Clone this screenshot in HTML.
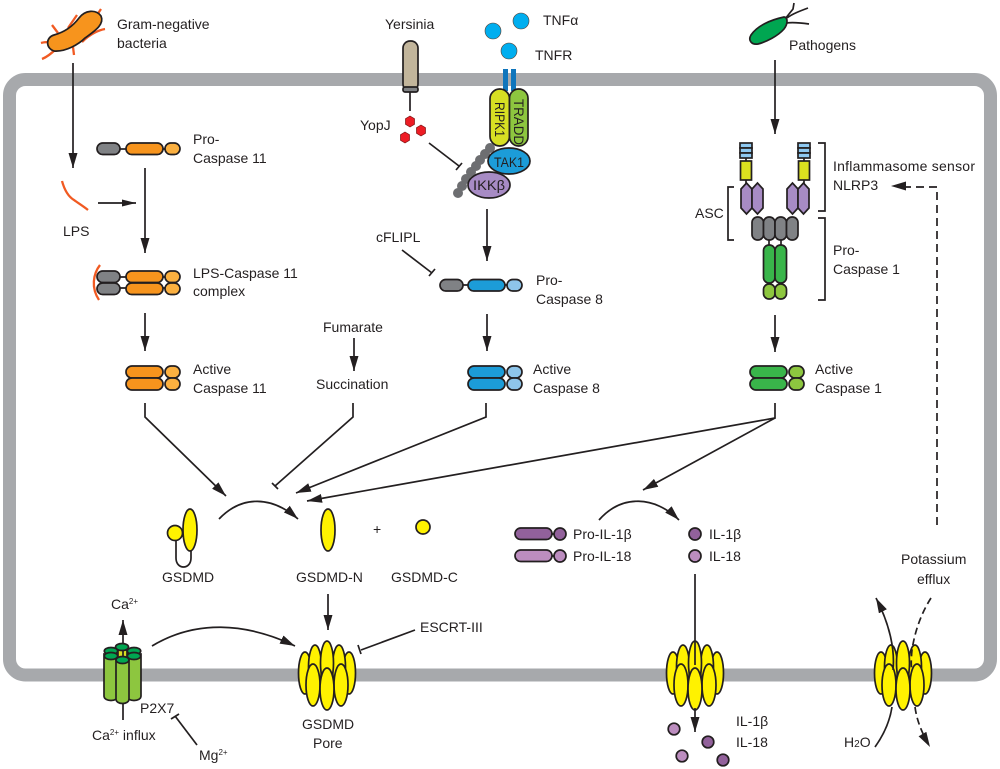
<!DOCTYPE html>
<html><head><meta charset="utf-8"><style>
html,body{margin:0;padding:0;background:#fff}
svg{display:block}
text{font-family:"Liberation Sans",sans-serif;font-size:14px;fill:#231f20}
.l{fill:none;stroke:#231f20;stroke-width:1.7}
.s{stroke:#231f20;stroke-width:1.7}
.o{fill:none;stroke:#f15a22;stroke-width:2.300}
</style></head><body>
<svg width="1000" height="769" viewBox="0 0 1000 769" xmlns="http://www.w3.org/2000/svg">
<defs>
<marker id="a" markerUnits="userSpaceOnUse" markerWidth="16" markerHeight="10" refX="15" refY="4.500" orient="auto"><path d="M0,0L15,4.500L0,9z" fill="#231f20"/></marker>
<marker id="b" markerUnits="userSpaceOnUse" markerWidth="16" markerHeight="9" refX="14" refY="3.500" orient="auto"><path d="M0,0L14,3.500L0,7z" fill="#231f20"/></marker>
<g id="pore" class="s" fill="#fff200">
<ellipse cx="-22" cy="-3" rx="6.500" ry="21"/><ellipse cx="22" cy="-3" rx="6.500" ry="21"/>
<ellipse cx="-12" cy="-9" rx="6.500" ry="22"/><ellipse cx="12" cy="-9" rx="6.500" ry="22"/>
<ellipse cx="0" cy="-13" rx="6.500" ry="22"/>
<ellipse cx="-14" cy="9" rx="7" ry="21"/><ellipse cx="14" cy="9" rx="7" ry="21"/>
<ellipse cx="0" cy="13" rx="7" ry="21"/>
</g>
<g id="hexp"><path d="M0,6L5.500,0L11,6V25L5.500,31L0,25z" fill="#a78bc4" class="s"/></g>
<g id="sensor" class="s">
<rect x="0" y="0" width="12" height="5" fill="#8ec8f0"/><rect x="0" y="5" width="12" height="5" fill="#8ec8f0"/><rect x="0" y="10" width="12" height="5" fill="#8ec8f0"/>
<rect x="0.500" y="18" width="11" height="19" fill="#dbe01f"/>
<path d="M6,15V18M6,37V41" fill="none"/>
</g>
</defs>

<rect x="9.500" y="79.500" width="981" height="595.500" rx="16" ry="16" fill="none" stroke="#a7a9ac" stroke-width="13"/>

<!-- bacteria -->
<path class="o" d="M41,43C44,42 47,42 50,42M52,25L58,33M77,15L68,28M101,9L97,15M105,29C99,30 90,34 82,42M73,47L74,55M42,59C47,57 52,53 57,48"/>
<path class="s" fill="#f7941d" d="M101,16C96,9 85,10 79,18C73,26 65,32 54,35C46,37 45,48 54,51C66,52 79,44 85,38C93,32 105,25 101,16z"/>
<text x="117" y="29">Gram-negative</text><text x="117" y="48">bacteria</text>
<line class="l" x1="73" y1="63" x2="73" y2="168" marker-end="url(#a)"/>

<!-- Caspase 11 -->
<g class="s">
<line x1="120" y1="149" x2="126" y2="149"/><line x1="163" y1="149" x2="166" y2="149"/>
<rect x="97" y="143" width="23" height="11.500" rx="5.700" fill="#808285"/>
<rect x="126" y="143" width="37" height="11.500" rx="5.700" fill="#f7941d"/>
<rect x="165" y="143" width="15" height="11.500" rx="5.700" fill="#fbb040"/>
</g>
<text x="193" y="144">Pro-</text><text x="193" y="163">Caspase 11</text>
<path class="o" d="M62,181C65,192 69,197 74,200C78,203 83,206 88,210"/>
<text x="63" y="236">LPS</text>
<line class="l" x1="98" y1="203" x2="136" y2="203" marker-end="url(#b)"/>
<line class="l" x1="145" y1="168" x2="145" y2="253" marker-end="url(#a)"/>
<path class="o" d="M100,265C93,274 91,288 99,300"/>
<g class="s">
<path d="M120,277L126,277M120,288L126,288M163,277H166M163,288H166" fill="none"/>
<rect x="97" y="271" width="23" height="11.500" rx="5.700" fill="#808285"/><rect x="97" y="283" width="23" height="11.500" rx="5.700" fill="#808285"/>
<rect x="126" y="271" width="37" height="11.500" rx="5.700" fill="#f7941d"/><rect x="126" y="283" width="37" height="11.500" rx="5.700" fill="#f7941d"/>
<rect x="165" y="271" width="15" height="11.500" rx="5.700" fill="#fbb040"/><rect x="165" y="283" width="15" height="11.500" rx="5.700" fill="#fbb040"/>
</g>
<text x="193" y="278">LPS-Caspase 11</text><text x="193" y="296">complex</text>
<line class="l" x1="145" y1="313" x2="145" y2="351" marker-end="url(#a)"/>
<g class="s">
<rect x="126" y="366" width="37" height="12" rx="6" fill="#f7941d"/><rect x="126" y="378" width="37" height="12" rx="6" fill="#f7941d"/>
<rect x="165" y="366" width="15" height="12" rx="6" fill="#fbb040"/><rect x="165" y="378" width="15" height="12" rx="6" fill="#fbb040"/>
</g>
<text x="193" y="374">Active</text><text x="193" y="393">Caspase 11</text>

<!-- converging lines -->
<path class="l" d="M145,403V417L226,496" marker-end="url(#a)"/>
<path class="l" d="M353,403V417L275,486"/><line class="l" x1="272" y1="483" x2="278" y2="489"/>
<path class="l" d="M486,403V417L296,493" marker-end="url(#a)"/>
<path class="l" d="M775,403V418L307,501" marker-end="url(#a)"/>
<path class="l" d="M775,418L643,490" marker-end="url(#a)"/>

<!-- Fumarate -->
<text x="323" y="332">Fumarate</text><text x="316" y="389">Succination</text>
<line class="l" x1="354" y1="338" x2="354" y2="371" marker-end="url(#a)"/>

<!-- Yersinia -->
<text x="385" y="29">Yersinia</text>
<rect class="s" x="403" y="41" width="15" height="50" rx="7" fill="#c2b59b"/>
<rect class="s" x="403" y="87" width="15" height="5" rx="2" fill="#808285"/>
<line class="l" x1="410" y1="92" x2="410" y2="111"/>
<g fill="#ed1c24" stroke="#7a1414" stroke-width=".7">
<path d="M410,116L414.500,118.700V124.300L410,127L405.500,124.300V118.700z"/>
<path d="M421,125L425.500,127.700V133.300L421,136L416.500,133.300V127.700z"/>
<path d="M405,132L409.500,134.700V140.300L405,143L400.500,140.300V134.700z"/>
</g>
<text x="360" y="130">YopJ</text>
<line class="l" x1="429" y1="143" x2="459" y2="166"/><line class="l" x1="462" y1="163" x2="456" y2="170"/>

<!-- TNF -->
<g fill="#00aeef" stroke="#5b3a2a" stroke-width=".6"><circle cx="521" cy="21" r="8"/><circle cx="493" cy="31" r="8"/><circle cx="509" cy="51" r="8"/></g>
<text x="543" y="25">TNFα</text><text x="535" y="60">TNFR</text>
<rect x="503" y="69" width="5" height="22" fill="#0f75bc"/><rect x="511" y="69" width="5" height="22" fill="#0f75bc"/>
<rect class="s" x="490" y="89" width="19.500" height="57" rx="9.700" fill="#d7df23"/>
<rect class="s" x="509.500" y="89" width="18.500" height="57" rx="9.200" fill="#8dc63f"/>
<text transform="translate(495,102) rotate(90)" textLength="35" lengthAdjust="spacingAndGlyphs">RIPK1</text>
<text transform="translate(514,99) rotate(90)" textLength="46" lengthAdjust="spacingAndGlyphs">TRADD</text>
<g fill="#6d6e71">
<circle cx="490" cy="148" r="5"/><circle cx="485" cy="154" r="5"/><circle cx="480" cy="160" r="5"/><circle cx="476" cy="166" r="5"/><circle cx="471" cy="172" r="5"/><circle cx="466" cy="179" r="5"/><circle cx="462" cy="186" r="5"/><circle cx="458" cy="193" r="5"/>
</g>
<ellipse class="s" cx="509" cy="161" rx="21" ry="13" fill="#1c9cd8"/>
<ellipse class="s" cx="489" cy="185" rx="21" ry="13" fill="#a78bc4"/>
<text x="494" y="167" textLength="30" lengthAdjust="spacingAndGlyphs">TAK1</text>
<text x="473" y="190" textLength="32" lengthAdjust="spacingAndGlyphs">IKKβ</text>
<line class="l" x1="487" y1="209" x2="487" y2="261" marker-end="url(#a)"/>
<text x="376" y="242">cFLIPL</text>
<line class="l" x1="402" y1="250" x2="432" y2="273"/><line class="l" x1="435" y1="269" x2="429" y2="276"/>

<!-- Caspase 8 -->
<g class="s">
<path d="M463,285H468M505,285H507" fill="none"/>
<rect x="440" y="279.500" width="23" height="11.500" rx="5.700" fill="#808285"/>
<rect x="468" y="279.500" width="37" height="11.500" rx="5.700" fill="#1c9cd8"/>
<rect x="507" y="279.500" width="15" height="11.500" rx="5.700" fill="#8ec5ea"/>
</g>
<text x="536" y="285">Pro-</text><text x="536" y="304">Caspase 8</text>
<line class="l" x1="487" y1="314" x2="487" y2="351" marker-end="url(#a)"/>
<g class="s">
<rect x="468" y="366" width="37" height="12" rx="6" fill="#1c9cd8"/><rect x="468" y="378" width="37" height="12" rx="6" fill="#1c9cd8"/>
<rect x="507" y="366" width="15" height="12" rx="6" fill="#8ec5ea"/><rect x="507" y="378" width="15" height="12" rx="6" fill="#8ec5ea"/>
</g>
<text x="533" y="374">Active</text><text x="533" y="393">Caspase 8</text>

<!-- Pathogen -->
<path d="M785,19L793,9L794,3M787,18C792,14 800,11 808,8M786,23C794,22 802,23 809,24" class="l"/>
<path class="s" fill="#00a651" d="M751,35C757,26 770,20 784,17C788,17 788,24 784,29C778,36 766,42 758,44C751,45 748,40 751,35z"/>
<text x="789" y="50">Pathogens</text>
<line class="l" x1="775" y1="60" x2="775" y2="134" marker-end="url(#a)"/>

<!-- Inflammasome -->
<use href="#sensor" x="740" y="143"/><use href="#sensor" x="798" y="143"/>
<use href="#hexp" x="741" y="183"/><use href="#hexp" x="752" y="183"/>
<use href="#hexp" x="787" y="183"/><use href="#hexp" x="798" y="183"/>
<g class="s" fill="#808285">
<rect x="752" y="217" width="11.500" height="23" rx="5.500"/><rect x="763.500" y="217" width="11.500" height="23" rx="5.500"/><rect x="775" y="217" width="11.500" height="23" rx="5.500"/><rect x="786.500" y="217" width="11.500" height="23" rx="5.500"/>
<path d="M769,240V245M781,240V245" fill="none"/>
<rect x="763.500" y="245" width="11.500" height="38" rx="5.500" fill="#39b54a"/><rect x="775" y="245" width="11.500" height="38" rx="5.500" fill="#39b54a"/>
<rect x="763.500" y="284" width="11.500" height="15" rx="5.500" fill="#8dc63f"/><rect x="775" y="284" width="11.500" height="15" rx="5.500" fill="#8dc63f"/>
</g>
<path class="l" d="M818,143H825V211H818M818,218H825V300H818M734,187H728V240H734"/>
<text x="833" y="171" textLength="142">Inflammasome sensor</text><text x="833" y="190">NLRP3</text>
<text x="695" y="218">ASC</text>
<text x="833" y="255">Pro-</text><text x="833" y="274">Caspase 1</text>
<path class="l" d="M937,525V187H905" stroke-dasharray="8 5"/>
<path d="M891,186L906,181.500V190.500z" fill="#231f20"/>
<line class="l" x1="775" y1="315" x2="775" y2="352" marker-end="url(#a)"/>
<g class="s">
<rect x="750" y="366" width="37" height="12" rx="6" fill="#39b54a"/><rect x="750" y="378" width="37" height="12" rx="6" fill="#39b54a"/>
<rect x="789" y="366" width="15" height="12" rx="6" fill="#8dc63f"/><rect x="789" y="378" width="15" height="12" rx="6" fill="#8dc63f"/>
</g>
<text x="815" y="374">Active</text><text x="815" y="393">Caspase 1</text>

<!-- GSDMD -->
<path class="l" d="M176,538V558C176,570 191,570 191,558V548"/>
<ellipse class="s" cx="190" cy="530" rx="7" ry="21" fill="#fff200"/>
<circle class="s" cx="175" cy="533" r="7.500" fill="#fff200"/>
<ellipse class="s" cx="328" cy="530" rx="7" ry="21" fill="#fff200"/>
<circle class="s" cx="423" cy="527" r="7" fill="#fff200"/>
<text x="373" y="534">+</text>
<text x="162" y="582">GSDMD</text><text x="296" y="582">GSDMD-N</text><text x="391" y="582">GSDMD-C</text>
<path class="l" d="M219,519C242,495 272,496 298,519" marker-end="url(#a)"/>
<line class="l" x1="328" y1="594" x2="328" y2="630" marker-end="url(#a)"/>

<!-- IL -->
<g class="s">
<rect x="515" y="528" width="37" height="11.500" rx="5.700" fill="#92619b"/><circle cx="560" cy="534" r="6" fill="#92619b"/>
<rect x="515" y="550" width="37" height="11.500" rx="5.700" fill="#bc8dbf"/><circle cx="560" cy="556" r="6" fill="#bc8dbf"/>
<path d="M552,534H554M552,556H554" fill="none"/>
<circle cx="695" cy="534" r="6" fill="#92619b"/><circle cx="695" cy="556" r="6" fill="#bc8dbf"/>
</g>
<text x="573" y="539">Pro-IL-1β</text><text x="573" y="561">Pro-IL-18</text>
<text x="709" y="539">IL-1β</text><text x="709" y="561">IL-18</text>
<path class="l" d="M599,520C622,494 655,496 679,520" marker-end="url(#a)"/>

<!-- pores -->
<use href="#pore" x="327" y="676"/>
<text x="302" y="729">GSDMD</text><text x="313" y="748">Pore</text>
<line class="l" x1="361" y1="650" x2="415" y2="630"/><line class="l" x1="358" y1="645" x2="361" y2="654"/>
<text x="420" y="632">ESCRT-III</text>

<use href="#pore" x="695" y="676"/>
<line class="l" x1="695" y1="574" x2="695" y2="665"/>
<line class="l" x1="695" y1="708" x2="695" y2="732" marker-end="url(#a)"/>
<g class="s">
<circle cx="674" cy="729" r="5.800" fill="#bc8dbf"/><circle cx="708" cy="742" r="5.800" fill="#92619b"/><circle cx="682" cy="756" r="5.800" fill="#bc8dbf"/><circle cx="723" cy="760" r="5.800" fill="#92619b"/>
</g>
<text x="736" y="726">IL-1β</text><text x="736" y="747">IL-18</text>

<use href="#pore" x="903" y="676"/>
<path class="l" d="M875,747C885,733 890,720 892,707" />
<path class="l" d="M893,670C895,650 890,625 876,598" marker-end="url(#a)"/>
<path class="l" d="M931,598C922,612 915,630 912,650C911,660 911,667 912,670" stroke-dasharray="7 4"/>
<path class="l" d="M915,707C917,722 923,735 930,747" stroke-dasharray="7 4" marker-end="url(#a)"/>
<text x="901" y="564">Potassium</text><text x="917" y="584">efflux</text>
<text x="844" y="747">H<tspan font-size="10">2</tspan>O</text>

<!-- P2X7 -->
<line class="l" x1="123" y1="660" x2="123" y2="620" marker-end="url(#a)"/>
<g class="s">
<path d="M104,654V696C104,702 118,702 118,696V654z" fill="#8dc63f"/>
<path d="M127,654V696C127,702 141,702 141,696V654z" fill="#8dc63f"/>
<rect x="118" y="650" width="9" height="8" fill="#d7df23"/>
<line x1="123" y1="643" x2="123" y2="658"/>
<ellipse cx="122" cy="647" rx="6.500" ry="3.500" fill="#00a651"/>
<ellipse cx="111" cy="651" rx="6.700" ry="3.500" fill="#00a651"/><ellipse cx="134" cy="651" rx="6.700" ry="3.500" fill="#00a651"/>
<ellipse cx="111" cy="656" rx="6.700" ry="3.500" fill="#00a651"/><ellipse cx="134" cy="656" rx="6.700" ry="3.500" fill="#00a651"/>
<path d="M116,660V699C116,705 129,705 129,699V660z" fill="#8dc63f"/>
<ellipse cx="122.500" cy="660" rx="6.500" ry="3.500" fill="#00a651"/>
</g>
<line class="l" x1="123" y1="704" x2="123" y2="720"/>
<text x="111" y="609">Ca<tspan font-size="8" dy="-5">2+</tspan></text>
<text x="92" y="740">Ca<tspan font-size="8" dy="-5">2+</tspan><tspan dy="5"> influx</tspan></text>
<text x="140" y="713">P2X7</text>
<line class="l" x1="197" y1="745" x2="175" y2="716"/><line class="l" x1="171" y1="719" x2="179" y2="714"/>
<text x="199" y="760">Mg<tspan font-size="8" dy="-5">2+</tspan></text>
<path class="l" d="M152,646C195,620 245,622 295,646" marker-end="url(#a)"/>
</svg>
</body></html>
